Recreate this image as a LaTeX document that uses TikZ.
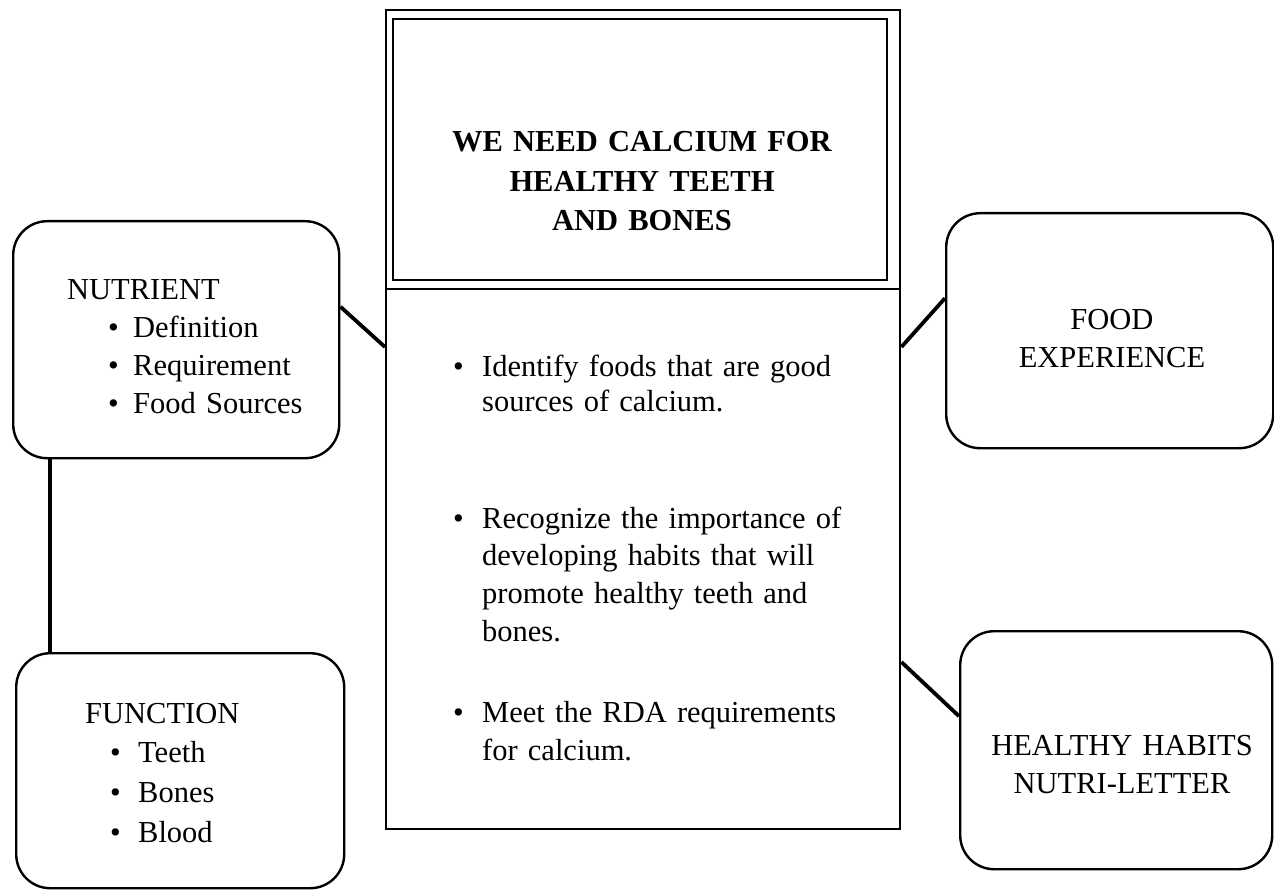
\documentclass[tikz,border=0pt]{standalone}
\usepackage{fontspec}
\setmainfont{Liberation Serif}
\newcommand\mybul[1]{\makebox[#1][l]{\textbullet}}
\tikzset{
  rbox/.style={draw, line width=2.4pt, rounded corners=34pt, inner sep=0pt, anchor=north west},
  rect/.style={draw, line width=2.4pt, inner sep=0pt, anchor=north west},
  link/.style={line width=3.8pt},
  ltxt/.style={inner sep=0pt, anchor=base west, align=left, text width=#1},
  ctxt/.style={inner sep=0pt, anchor=base, align=center, text width=#1},
}
\begin{document}
\begin{tikzpicture}[x=1pt,y=-1pt]
\useasboundingbox (0,0) rectangle (1274,890);

% central boxes
\node[rect, minimum width=514pt, minimum height=279pt] (ttl) at (385,9) {};
\node[rect, minimum width=494pt, minimum height=261pt] (ttlin) at (392,18) {};
\node[rect, minimum width=514pt, minimum height=540pt] (ctr) at (385,288) {};

\node[ctxt=480pt, font=\bfseries\fontsize{30.5}{39.5}\selectfont] (ttext) at (642,152)
  {WE NEED CALCIUM FOR\\HEALTHY TEETH\\AND BONES};

\node[ltxt=440pt, font=\fontsize{30.5}{35}\selectfont] (obj1) at (453,377)
  {\mybul{29pt}Identify foods that are good\\\hspace*{29pt}sources of calcium.};
\node[ltxt=440pt, font=\fontsize{30.5}{37.7}\selectfont] (obj2) at (453,528)
  {\mybul{29pt}Recognize the importance of\\\hspace*{29pt}developing habits that will\\\hspace*{29pt}promote healthy teeth and\\\hspace*{29pt}bones.};
\node[ltxt=440pt, font=\fontsize{30.5}{38}\selectfont] (obj3) at (453,722)
  {\mybul{29pt}Meet the RDA requirements\\\hspace*{29pt}for calcium.};

% left boxes
\node[rbox, minimum width=326pt, minimum height=237pt] (nut) at (12,220) {};
\node[ltxt=260pt, font=\fontsize{30.5}{37.7}\selectfont] (nuttext) at (67,300)
  {NUTRIENT\\\hspace*{41pt}\mybul{25pt}Definition\\\hspace*{41pt}\mybul{25pt}Requirement\\\hspace*{41pt}\mybul{25pt}Food Sources};

\node[rbox, minimum width=328pt, minimum height=235pt] (func) at (15,652) {};
\node[ltxt=240pt, font=\fontsize{30.5}{39.7}\selectfont] (functext) at (85,723)
  {FUNCTION\\\hspace*{25pt}\mybul{28pt}Teeth\\\hspace*{25pt}\mybul{28pt}Bones\\\hspace*{25pt}\mybul{28pt}Blood};

% right boxes
\node[rbox, minimum width=327pt, minimum height=235pt] (food) at (945,212) {};
\node[ctxt=300pt, font=\fontsize{30.5}{38}\selectfont] (foodtext) at (1112,330)
  {FOOD\\EXPERIENCE};

\node[rbox, minimum width=312pt, minimum height=238pt] (hh) at (959,630) {};
\node[ctxt=300pt, font=\fontsize{30.5}{38}\selectfont] (hhtext) at (1122,755)
  {HEALTHY HABITS\\NUTRI-LETTER};

% connectors
\draw[link] ([yshift=33pt]nut.east) -- ([yshift=-59pt]ctr.north west);
\draw[link] ([xshift=38pt]nut.south west) -- ([xshift=38pt]nut.south west |- func.north);
\draw[link] ([yshift=-59pt]ctr.north east) -- ([yshift=32.5pt]food.west);
\draw[link] ([yshift=-374pt]ctr.north east) -- ([yshift=34pt]hh.west);
\end{tikzpicture}
\end{document}
